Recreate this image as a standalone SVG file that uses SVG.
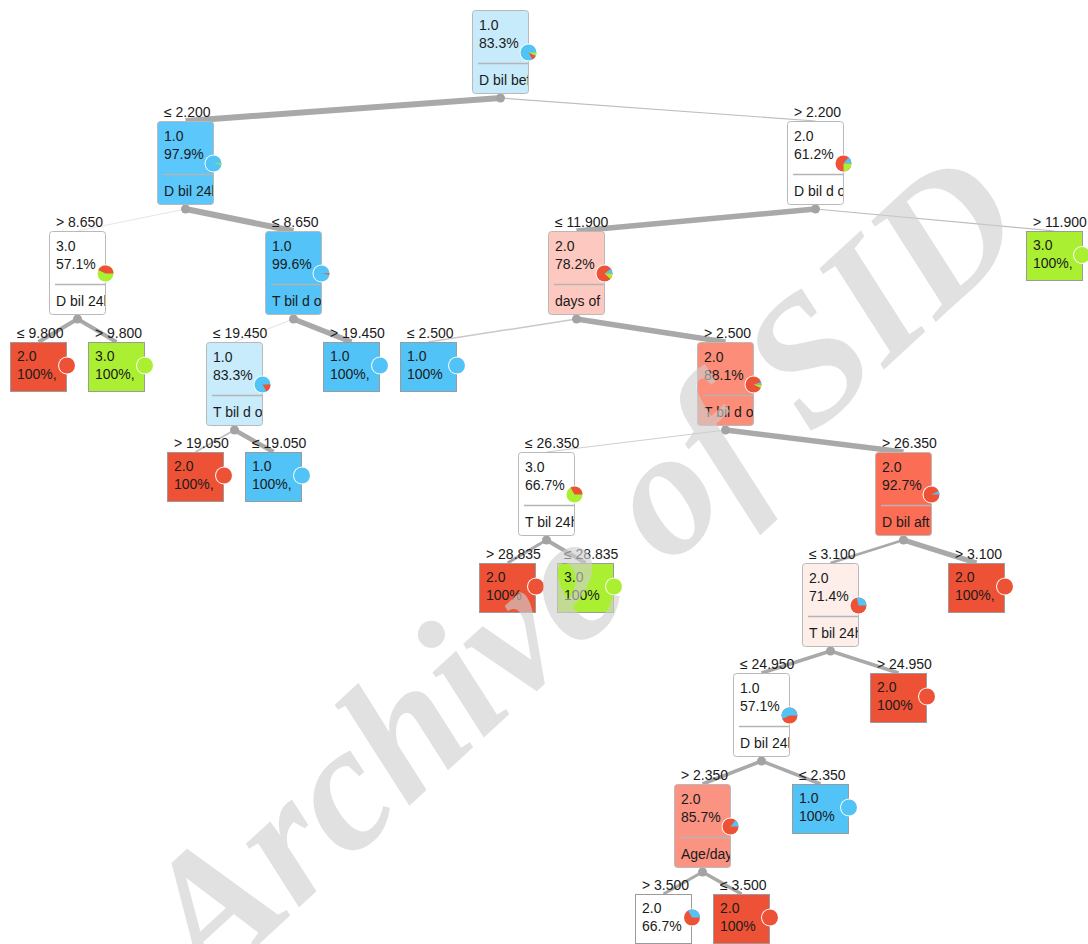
<svg xmlns="http://www.w3.org/2000/svg" width="1088" height="944" viewBox="0 0 1088 944">
<style>
.t{font-family:"Liberation Sans",Arial,sans-serif;font-size:14px;fill:#1a1a1a}
.bx{stroke:#b9b9b9;stroke-width:1}
.lf{stroke:#9b9b9b;stroke-width:1}
.sp{stroke:#b5b5b5;stroke-width:1.5}
.e{fill:none;stroke:#a9a9a9}
.d{fill:#a3a3a3}
.ring{fill:#fff}
.cb{fill:#52c3f7}.cr{fill:#ee5236}.cg{fill:#abef33}
.wm{font-family:"Liberation Serif","Times New Roman",serif;font-style:italic;font-weight:bold;font-size:180px;fill:#cfcfcf;opacity:0.62}
</style>
<defs>
<clipPath id="ci"><rect x="0" y="0" width="56" height="84"/></clipPath>
</defs>
<g id="connectors">
<line class="e" x1="500.5" y1="98" x2="185.5" y2="121" stroke-width="6"/>
<line class="e" x1="500.5" y1="98" x2="815.5" y2="121" stroke-width="1.2" style="stroke:#bdbdbd"/>
<line class="e" x1="185.5" y1="209" x2="77.5" y2="231" stroke-width="1" style="stroke:#e6e6e6"/>
<line class="e" x1="185.5" y1="209" x2="293.5" y2="231" stroke-width="6"/>
<line class="e" x1="815.5" y1="209" x2="576.5" y2="231" stroke-width="5.5"/>
<line class="e" x1="815.5" y1="209" x2="1054.5" y2="231" stroke-width="1.2" style="stroke:#bdbdbd"/>
<line class="e" x1="77.5" y1="319" x2="38.5" y2="342" stroke-width="4"/>
<line class="e" x1="77.5" y1="319" x2="116.5" y2="342" stroke-width="4"/>
<line class="e" x1="293.5" y1="319" x2="234.5" y2="342" stroke-width="1" style="stroke:#e0e0e0"/>
<line class="e" x1="293.5" y1="319" x2="351.5" y2="342" stroke-width="5.5"/>
<line class="e" x1="576.5" y1="319" x2="428.5" y2="342" stroke-width="1.5" style="stroke:#c8c8c8"/>
<line class="e" x1="576.5" y1="319" x2="725.5" y2="342" stroke-width="5.5"/>
<line class="e" x1="234.5" y1="430" x2="195.5" y2="452" stroke-width="2" style="stroke:#c0c0c0"/>
<line class="e" x1="234.5" y1="430" x2="273.5" y2="452" stroke-width="4.5"/>
<line class="e" x1="725.5" y1="430" x2="546.5" y2="452" stroke-width="1.2" style="stroke:#d0d0d0"/>
<line class="e" x1="725.5" y1="430" x2="903.5" y2="452" stroke-width="5.5"/>
<line class="e" x1="546.5" y1="540" x2="507.5" y2="563" stroke-width="3"/>
<line class="e" x1="546.5" y1="540" x2="585.5" y2="563" stroke-width="4"/>
<line class="e" x1="903.5" y1="540" x2="830.5" y2="563" stroke-width="2.5"/>
<line class="e" x1="903.5" y1="540" x2="976.5" y2="563" stroke-width="5"/>
<line class="e" x1="830.5" y1="651" x2="761.5" y2="673" stroke-width="3.5"/>
<line class="e" x1="830.5" y1="651" x2="898.5" y2="673" stroke-width="3.5"/>
<line class="e" x1="761.5" y1="761" x2="702.5" y2="784" stroke-width="3.5"/>
<line class="e" x1="761.5" y1="761" x2="820.5" y2="784" stroke-width="3.5"/>
<line class="e" x1="702.5" y1="872" x2="663.5" y2="894" stroke-width="3"/>
<line class="e" x1="702.5" y1="872" x2="741.5" y2="894" stroke-width="3.5"/>
<circle class="d" cx="500.5" cy="98" r="4.5"/>
<circle class="d" cx="185.5" cy="209" r="4.5"/>
<circle class="d" cx="815.5" cy="209" r="4.5"/>
<circle class="d" cx="77.5" cy="319" r="4.5"/>
<circle class="d" cx="293.5" cy="319" r="4.5"/>
<circle class="d" cx="576.5" cy="319" r="4.5"/>
<circle class="d" cx="234.5" cy="430" r="4.5"/>
<circle class="d" cx="725.5" cy="430" r="4.5"/>
<circle class="d" cx="546.5" cy="540" r="4.5"/>
<circle class="d" cx="903.5" cy="540" r="4.5"/>
<circle class="d" cx="830.5" cy="651" r="4.5"/>
<circle class="d" cx="761.5" cy="761" r="4.5"/>
<circle class="d" cx="702.5" cy="872" r="4.5"/>
</g>

<g id="n0" transform="translate(472,10)">
<rect class="bx" x="0.5" y="0.5" width="56" height="83" rx="3" fill="#c8ebfc"/>
<g clip-path="url(#ci)"><text class="t" x="7" y="20">1.0</text><text class="t" x="7" y="38">83.3%</text><text class="t" x="7" y="75">D bil bef</text></g>
<line class="sp" x1="6" y1="53.5" x2="56" y2="53.5"/>
<g transform="translate(56.5,42.5)"><circle class="ring" r="9"/><circle class="cb" r="8"/><path class="cr" d="M0,0L4,6.93A8,8 0 0,0 7.31,3.25Z"/><path class="cg" d="M0,0L7.31,3.25A8,8 0 0,0 8,0Z"/></g>
</g>

<g id="n1" transform="translate(157,121)">
<text class="t" x="7" y="-4">≤ 2.200</text>
<rect class="bx" x="0.5" y="0.5" width="56" height="83" rx="3" fill="#5bc7fa"/>
<g clip-path="url(#ci)"><text class="t" x="7" y="20">1.0</text><text class="t" x="7" y="38">97.9%</text><text class="t" x="7" y="75">D bil 24h</text></g>
<line class="sp" x1="6" y1="53.5" x2="56" y2="53.5"/>
<g transform="translate(56.5,42.5)"><circle class="ring" r="9"/><circle class="cb" r="8"/><path class="cg" d="M0,0L7.92,1.3A8,8 0 0,0 8,-0.3Z"/></g>
</g>

<g id="n2" transform="translate(787,121)">
<text class="t" x="7" y="-4">&gt; 2.200</text>
<rect class="bx" x="0.5" y="0.5" width="56" height="83" rx="3" fill="#ffffff"/>
<g clip-path="url(#ci)"><text class="t" x="7" y="20">2.0</text><text class="t" x="7" y="38">61.2%</text><text class="t" x="7" y="75">D bil d o</text></g>
<line class="sp" x1="6" y1="53.5" x2="56" y2="53.5"/>
<g transform="translate(56.5,42.5)"><circle class="ring" r="9"/><circle class="cr" r="8"/><path class="cb" d="M0,0L8,0A8,8 0 0,0 5.14,-6.13Z"/><path class="cg" d="M0,0L0.14,8A8,8 0 0,0 8,0Z"/></g>
</g>

<g id="n3" transform="translate(49,231)">
<text class="t" x="7" y="-4">&gt; 8.650</text>
<rect class="bx" x="0.5" y="0.5" width="56" height="83" rx="3" fill="#ffffff"/>
<g clip-path="url(#ci)"><text class="t" x="7" y="20">3.0</text><text class="t" x="7" y="38">57.1%</text><text class="t" x="7" y="75">D bil 24h</text></g>
<line class="sp" x1="6" y1="53.5" x2="56" y2="53.5"/>
<g transform="translate(56.5,42.5)"><circle class="ring" r="9"/><circle class="cg" r="8"/><path class="cr" d="M0,0L8,0A8,8 0 0,0 -7.19,-3.51Z"/></g>
</g>

<g id="n4" transform="translate(265,231)">
<text class="t" x="7" y="-4">≤ 8.650</text>
<rect class="bx" x="0.5" y="0.5" width="56" height="83" rx="3" fill="#53c3f8"/>
<g clip-path="url(#ci)"><text class="t" x="7" y="20">1.0</text><text class="t" x="7" y="38">99.6%</text><text class="t" x="7" y="75">T bil d o</text></g>
<line class="sp" x1="6" y1="53.5" x2="56" y2="53.5"/>
<g transform="translate(56.5,42.5)"><circle class="ring" r="9"/><circle class="cb" r="8"/><path class="cr" d="M0,0L7.95,1.3A8,8 0 0,0 8,-0.3Z"/></g>
</g>

<g id="n5" transform="translate(548,231)">
<text class="t" x="7" y="-4">≤ 11.900</text>
<rect class="bx" x="0.5" y="0.5" width="56" height="83" rx="3" fill="#fcc8bf"/>
<g clip-path="url(#ci)"><text class="t" x="7" y="20">2.0</text><text class="t" x="7" y="38">78.2%</text><text class="t" x="7" y="75">days of a</text></g>
<line class="sp" x1="6" y1="53.5" x2="56" y2="53.5"/>
<g transform="translate(56.5,42.5)"><circle class="ring" r="9"/><circle class="cr" r="8"/><path class="cb" d="M0,0L8,0A8,8 0 0,0 6.47,-4.7Z"/><path class="cg" d="M0,0L5.9,5.4A8,8 0 0,0 8,0Z"/></g>
</g>

<g id="n6" transform="translate(1026,231)">
<text class="t" x="7" y="-4">&gt; 11.900</text>
<rect class="lf" x="0.5" y="0.5" width="56" height="49" fill="#abef33"/>
<g clip-path="url(#ci)"><text class="t" x="7" y="19">3.0</text><text class="t" x="7" y="37">100%,</text></g>
<g transform="translate(56,24)"><circle class="ring" r="9"/><circle class="cg" r="8"/></g>
</g>

<g id="n7" transform="translate(10,342)">
<text class="t" x="7" y="-4">≤ 9.800</text>
<rect class="lf" x="0.5" y="0.5" width="56" height="49" fill="#ee5236"/>
<g clip-path="url(#ci)"><text class="t" x="7" y="19">2.0</text><text class="t" x="7" y="37">100%,</text></g>
<g transform="translate(57,23.5)"><circle class="ring" r="9"/><circle class="cr" r="8"/></g>
</g>

<g id="n8" transform="translate(88,342)">
<text class="t" x="7" y="-4">&gt; 9.800</text>
<rect class="lf" x="0.5" y="0.5" width="56" height="49" fill="#abef33"/>
<g clip-path="url(#ci)"><text class="t" x="7" y="19">3.0</text><text class="t" x="7" y="37">100%,</text></g>
<g transform="translate(57,23.5)"><circle class="ring" r="9"/><circle class="cg" r="8"/></g>
</g>

<g id="n9" transform="translate(206,342)">
<text class="t" x="7" y="-4">≤ 19.450</text>
<rect class="bx" x="0.5" y="0.5" width="56" height="83" rx="3" fill="#c9ecfd"/>
<g clip-path="url(#ci)"><text class="t" x="7" y="20">1.0</text><text class="t" x="7" y="38">83.3%</text><text class="t" x="7" y="75">T bil d o</text></g>
<line class="sp" x1="6" y1="53.5" x2="56" y2="53.5"/>
<g transform="translate(56.5,42.5)"><circle class="ring" r="9"/><circle class="cb" r="8"/><path class="cr" d="M0,0L4,6.93A8,8 0 0,0 8,0Z"/></g>
</g>

<g id="n10" transform="translate(323,342)">
<text class="t" x="7" y="-4">&gt; 19.450</text>
<rect class="lf" x="0.5" y="0.5" width="56" height="49" fill="#52c3f7"/>
<g clip-path="url(#ci)"><text class="t" x="7" y="19">1.0</text><text class="t" x="7" y="37">100%,</text></g>
<g transform="translate(57,23.5)"><circle class="ring" r="9"/><circle class="cb" r="8"/></g>
</g>

<g id="n11" transform="translate(400,342)">
<text class="t" x="7" y="-4">≤ 2.500</text>
<rect class="lf" x="0.5" y="0.5" width="56" height="49" fill="#52c3f7"/>
<g clip-path="url(#ci)"><text class="t" x="7" y="19">1.0</text><text class="t" x="7" y="37">100%</text></g>
<g transform="translate(57,23.5)"><circle class="ring" r="9"/><circle class="cb" r="8"/></g>
</g>

<g id="n12" transform="translate(697,342)">
<text class="t" x="7" y="-4">&gt; 2.500</text>
<rect class="bx" x="0.5" y="0.5" width="56" height="83" rx="3" fill="#fc8d78"/>
<g clip-path="url(#ci)"><text class="t" x="7" y="20">2.0</text><text class="t" x="7" y="38">88.1%</text><text class="t" x="7" y="75">T bil d o</text></g>
<line class="sp" x1="6" y1="53.5" x2="56" y2="53.5"/>
<g transform="translate(56.5,42.5)"><circle class="ring" r="9"/><circle class="cr" r="8"/><path class="cb" d="M0,0L8,0A8,8 0 0,0 7.61,-2.47Z"/><path class="cg" d="M0,0L7.25,3.38A8,8 0 0,0 8,0Z"/></g>
</g>

<g id="n13" transform="translate(167,452)">
<text class="t" x="7" y="-4">&gt; 19.050</text>
<rect class="lf" x="0.5" y="0.5" width="56" height="49" fill="#ee5236"/>
<g clip-path="url(#ci)"><text class="t" x="7" y="19">2.0</text><text class="t" x="7" y="37">100%,</text></g>
<g transform="translate(57,23.5)"><circle class="ring" r="9"/><circle class="cr" r="8"/></g>
</g>

<g id="n14" transform="translate(245,452)">
<text class="t" x="7" y="-4">≤ 19.050</text>
<rect class="lf" x="0.5" y="0.5" width="56" height="49" fill="#52c3f7"/>
<g clip-path="url(#ci)"><text class="t" x="7" y="19">1.0</text><text class="t" x="7" y="37">100%,</text></g>
<g transform="translate(57,23.5)"><circle class="ring" r="9"/><circle class="cb" r="8"/></g>
</g>

<g id="n15" transform="translate(518,452)">
<text class="t" x="7" y="-4">≤ 26.350</text>
<rect class="bx" x="0.5" y="0.5" width="56" height="83" rx="3" fill="#ffffff"/>
<g clip-path="url(#ci)"><text class="t" x="7" y="20">3.0</text><text class="t" x="7" y="38">66.7%</text><text class="t" x="7" y="75">T bil 24h</text></g>
<line class="sp" x1="6" y1="53.5" x2="56" y2="53.5"/>
<g transform="translate(56.5,42.5)"><circle class="ring" r="9"/><circle class="cg" r="8"/><path class="cr" d="M0,0L8,0A8,8 0 0,0 -4,-6.93Z"/></g>
</g>

<g id="n16" transform="translate(875,452)">
<text class="t" x="7" y="-4">&gt; 26.350</text>
<rect class="bx" x="0.5" y="0.5" width="56" height="83" rx="3" fill="#fc6d55"/>
<g clip-path="url(#ci)"><text class="t" x="7" y="20">2.0</text><text class="t" x="7" y="38">92.7%</text><text class="t" x="7" y="75">D bil aft</text></g>
<line class="sp" x1="6" y1="53.5" x2="56" y2="53.5"/>
<g transform="translate(56.5,42.5)"><circle class="ring" r="9"/><circle class="cr" r="8"/><path class="cb" d="M0,0L8,0A8,8 0 0,0 7.19,-3.51Z"/></g>
</g>

<g id="n17" transform="translate(479,563)">
<text class="t" x="7" y="-4">&gt; 28.835</text>
<rect class="lf" x="0.5" y="0.5" width="56" height="49" fill="#ee5236"/>
<g clip-path="url(#ci)"><text class="t" x="7" y="19">2.0</text><text class="t" x="7" y="37">100%</text></g>
<g transform="translate(57,23.5)"><circle class="ring" r="9"/><circle class="cr" r="8"/></g>
</g>

<g id="n18" transform="translate(557,563)">
<text class="t" x="7" y="-4">≤ 28.835</text>
<rect class="lf" x="0.5" y="0.5" width="56" height="49" fill="#abef33"/>
<g clip-path="url(#ci)"><text class="t" x="7" y="19">3.0</text><text class="t" x="7" y="37">100%</text></g>
<g transform="translate(57,23.5)"><circle class="ring" r="9"/><circle class="cg" r="8"/></g>
</g>

<g id="n19" transform="translate(802,563)">
<text class="t" x="7" y="-4">≤ 3.100</text>
<rect class="bx" x="0.5" y="0.5" width="56" height="83" rx="3" fill="#fdeeea"/>
<g clip-path="url(#ci)"><text class="t" x="7" y="20">2.0</text><text class="t" x="7" y="38">71.4%</text><text class="t" x="7" y="75">T bil 24h</text></g>
<line class="sp" x1="6" y1="53.5" x2="56" y2="53.5"/>
<g transform="translate(56.5,42.5)"><circle class="ring" r="9"/><circle class="cr" r="8"/><path class="cb" d="M0,0L8,0A8,8 0 0,0 -1.8,-7.79Z"/></g>
</g>

<g id="n20" transform="translate(948,563)">
<text class="t" x="7" y="-4">&gt; 3.100</text>
<rect class="lf" x="0.5" y="0.5" width="56" height="49" fill="#ee5236"/>
<g clip-path="url(#ci)"><text class="t" x="7" y="19">2.0</text><text class="t" x="7" y="37">100%,</text></g>
<g transform="translate(57,23.5)"><circle class="ring" r="9"/><circle class="cr" r="8"/></g>
</g>

<g id="n21" transform="translate(733,673)">
<text class="t" x="7" y="-4">≤ 24.950</text>
<rect class="bx" x="0.5" y="0.5" width="56" height="83" rx="3" fill="#ffffff"/>
<g clip-path="url(#ci)"><text class="t" x="7" y="20">1.0</text><text class="t" x="7" y="38">57.1%</text><text class="t" x="7" y="75">D bil 24h</text></g>
<line class="sp" x1="6" y1="53.5" x2="56" y2="53.5"/>
<g transform="translate(56.5,42.5)"><circle class="ring" r="9"/><circle class="cr" r="8"/><path class="cb" d="M0,0L8,0A8,8 0 1,0 -7.21,3.46Z"/></g>
</g>

<g id="n22" transform="translate(870,673)">
<text class="t" x="7" y="-4">&gt; 24.950</text>
<rect class="lf" x="0.5" y="0.5" width="56" height="49" fill="#ee5236"/>
<g clip-path="url(#ci)"><text class="t" x="7" y="19">2.0</text><text class="t" x="7" y="37">100%</text></g>
<g transform="translate(57,23.5)"><circle class="ring" r="9"/><circle class="cr" r="8"/></g>
</g>

<g id="n23" transform="translate(674,784)">
<text class="t" x="7" y="-4">&gt; 2.350</text>
<rect class="bx" x="0.5" y="0.5" width="56" height="83" rx="3" fill="#fb9383"/>
<g clip-path="url(#ci)"><text class="t" x="7" y="20">2.0</text><text class="t" x="7" y="38">85.7%</text><text class="t" x="7" y="75">Age/day</text></g>
<line class="sp" x1="6" y1="53.5" x2="56" y2="53.5"/>
<g transform="translate(56.5,42.5)"><circle class="ring" r="9"/><circle class="cr" r="8"/><path class="cb" d="M0,0L8,0A8,8 0 0,0 4.98,-6.26Z"/></g>
</g>

<g id="n24" transform="translate(792,784)">
<text class="t" x="7" y="-4">≤ 2.350</text>
<rect class="lf" x="0.5" y="0.5" width="56" height="49" fill="#52c3f7"/>
<g clip-path="url(#ci)"><text class="t" x="7" y="19">1.0</text><text class="t" x="7" y="37">100%</text></g>
<g transform="translate(57,23.5)"><circle class="ring" r="9"/><circle class="cb" r="8"/></g>
</g>

<g id="n25" transform="translate(635,894)">
<text class="t" x="7" y="-4">&gt; 3.500</text>
<rect class="lf" x="0.5" y="0.5" width="56" height="49" fill="#ffffff"/>
<g clip-path="url(#ci)"><text class="t" x="7" y="19">2.0</text><text class="t" x="7" y="37">66.7%</text></g>
<g transform="translate(57,23.5)"><circle class="ring" r="9"/><circle class="cr" r="8"/><path class="cb" d="M0,0L8,0A8,8 0 0,0 -4,-6.93Z"/></g>
</g>

<g id="n26" transform="translate(713,894)">
<text class="t" x="7" y="-4">≤ 3.500</text>
<rect class="lf" x="0.5" y="0.5" width="56" height="49" fill="#ee5236"/>
<g clip-path="url(#ci)"><text class="t" x="7" y="19">2.0</text><text class="t" x="7" y="37">100%</text></g>
<g transform="translate(57,23.5)"><circle class="ring" r="9"/><circle class="cr" r="8"/></g>
</g>

<text class="wm" x="208" y="991" transform="rotate(-42.6 208 991)">Archive of SID</text>
</svg>
